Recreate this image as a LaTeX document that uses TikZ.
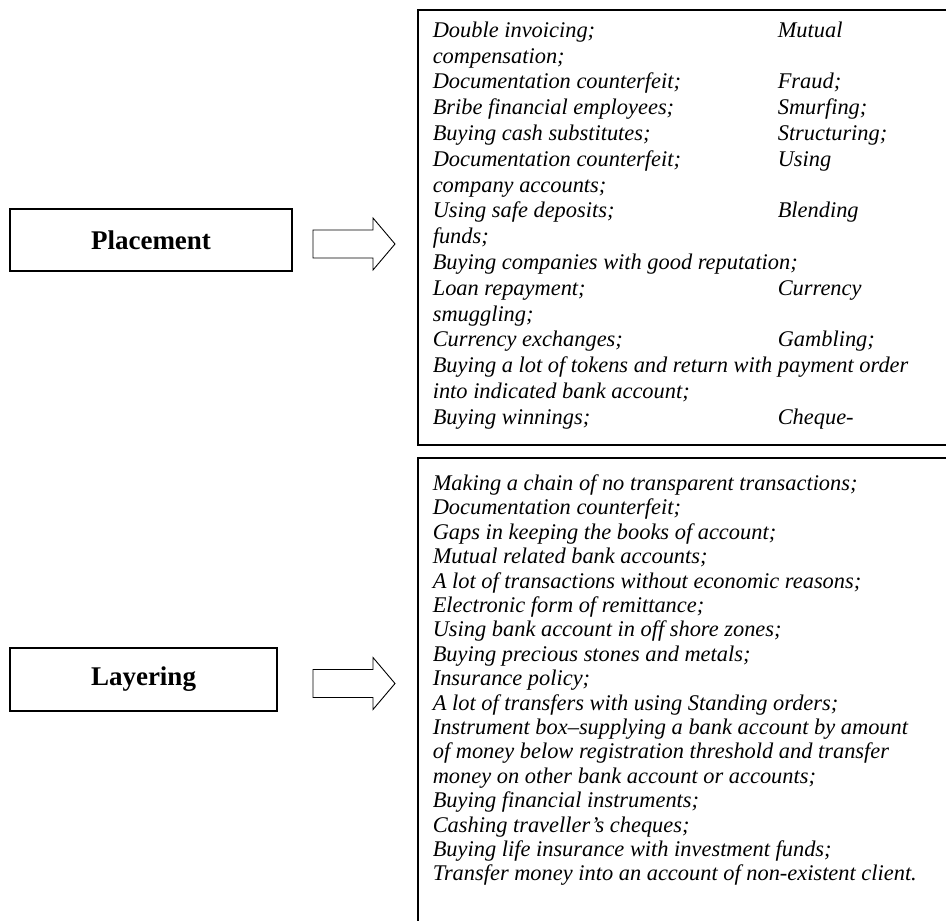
\documentclass[tikz,border=0pt]{standalone}
\usepackage{fontspec}
\setmainfont{Liberation Serif}
\usepackage{tikz}
\usetikzlibrary{positioning,calc}

% one entry in the left column, one in the right
\newcommand{\pair}[2]{\makebox[345pt][l]{#1}#2}

\begin{document}
\begin{tikzpicture}[
    x=1pt, y=-1pt,
    stage/.style={draw, line width=1.6pt, minimum height=62pt, inner sep=0pt, font=\fontsize{27}{30}\selectfont\bfseries},
    list/.style={draw, line width=1.6pt, anchor=north west, inner xsep=15pt, inner ysep=0pt, align=left},
    blockarrow/.style={draw, line width=0.9pt, line join=miter}
  ]
    \useasboundingbox (0,0) rectangle (946,921);
    \clip (0,0) rectangle (946,921);

    \node[stage, minimum width=282pt] (place) at (151,240) {Placement};
    \node[stage, minimum width=267pt, minimum height=63pt] (layer) at (143.5,679.5) {Layering};

    \node[list] (placelist) at (417,9) {\parbox[c][435pt][t]{530pt}{\fontsize{22.4}{25.8}\selectfont\itshape\vspace*{12pt}%
      \pair{Double invoicing;}{Mutual}\\
      compensation;\\
      \pair{Documentation counterfeit;}{Fraud;}\\
      \pair{Bribe financial employees;}{Smurfing;}\\
      \pair{Buying cash substitutes;}{Structuring;}\\
      \pair{Documentation counterfeit;}{Using}\\
      company accounts;\\
      \pair{Using safe deposits;}{Blending}\\
      funds;\\
      Buying companies with good reputation;\\
      \pair{Loan repayment;}{Currency}\\
      smuggling;\\
      \pair{Currency exchanges;}{Gambling;}\\
      Buying a lot of tokens and return with payment order\\
      into indicated bank account;\\
      \pair{Buying winnings;}{Cheque-}}};

    \node[list] (layerlist) at (417,457) {\parbox[c][500pt][t]{530pt}{\fontsize{22.4}{24.4}\selectfont\itshape\vspace*{17pt}%
      Making a chain of no transparent transactions;\\
      Documentation counterfeit;\\
      Gaps in keeping the books of account;\\
      Mutual related bank accounts;\\
      A lot of transactions without economic reasons;\\
      Electronic form of remittance;\\
      Using bank account in off shore zones;\\
      Buying precious stones and metals;\\
      Insurance policy;\\
      A lot of transfers with using Standing orders;\\
      Instrument box{\upshape\textendash}supplying a bank account by amount\\
      of money below registration threshold and transfer\\
      money on other bank account or accounts;\\
      Buying financial instruments;\\
      Cashing traveller’s cheques;\\
      Buying life insurance with investment funds;\\
      Transfer money into an account of non-existent client.}};

    % block arrows between stage and list
    \coordinate (parrow) at ($(place.east -| placelist.west)+(-104,4)$);
    \coordinate (larrow) at ($(layer.east -| layerlist.west)+(-104,4)$);
    \draw[blockarrow] (parrow) ++(0,-14) -- ++(60,0) -- ++(0,-12) -- ++(22,26) -- ++(-22,26) -- ++(0,-12) -- ++(-60,0) -- cycle;
    \draw[blockarrow] (larrow) ++(0,-14) -- ++(60,0) -- ++(0,-12) -- ++(22,26) -- ++(-22,26) -- ++(0,-12) -- ++(-60,0) -- cycle;
  \end{tikzpicture}
\end{document}
